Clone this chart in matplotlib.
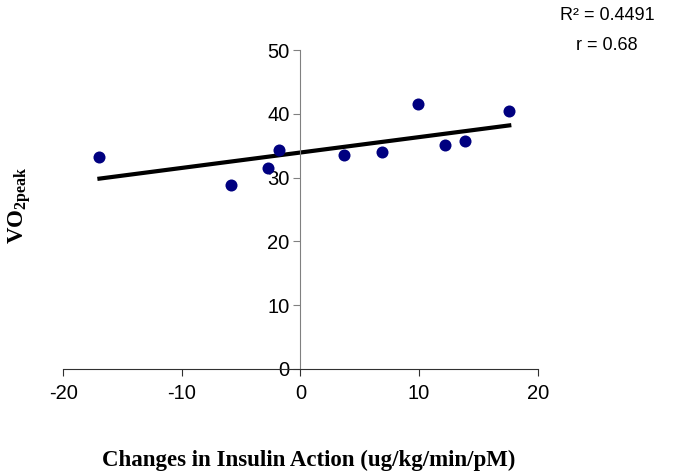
import numpy as np
import matplotlib.pyplot as plt

plt.rcParams['font.family'] = ['Liberation Sans', 'DejaVu Sans']
plt.rcParams['axes.unicode_minus'] = False
plt.rcParams['mathtext.fontset'] = 'custom'
plt.rcParams['mathtext.rm'] = 'Liberation Serif:bold'
plt.rcParams['mathtext.bf'] = 'Liberation Serif:bold'

# data
insulin_change = [-16.95, -5.85, -2.78, -1.8, 3.63, 6.83, 9.87, 12.2, 13.9, 17.6]
vo2_peak = [33.2, 28.8, 31.5, 34.4, 33.5, 34.1, 41.6, 35.1, 35.7, 40.4]
x_ticks = [-20, -10, 0, 10, 20]
y_ticks = [0, 10, 20, 30, 40, 50]
stats_text = "R\u00b2 = 0.4491\nr = 0.68"

x = np.array(insulin_change)
y = np.array(vo2_peak)
slope, intercept = np.polyfit(x, y, 1)
xfit = np.array([x.min(), x.max()])

fig = plt.figure(figsize=(6.73, 4.73), dpi=100)
ax = fig.add_axes([0.094, 0.22, 0.705, 0.674])

ax.plot(xfit, slope * xfit + intercept, color='black', lw=3, zorder=2)
ax.scatter(x, y, s=75, color='#000080', zorder=3, linewidths=0)

ax.set_xlim(-20, 20)
ax.set_ylim(0, 50)
ax.set_xticks(x_ticks)
ax.set_yticks(y_ticks)

ax.spines['top'].set_visible(False)
ax.spines['right'].set_visible(False)
ax.spines['left'].set_position(('data', 0))
ax.spines['left'].set_color('#808080')
ax.spines['bottom'].set_color('#303030')
ax.tick_params(axis='x', direction='out', length=5, labelsize=14.5, pad=6, color='#303030')
ax.tick_params(axis='y', direction='out', length=5, labelsize=14.5, pad=3, color='#808080')

fig.text(0.458, 0.027, 'Changes in Insulin Action (ug/kg/min/pM)',
         ha='center', va='center', fontsize=16.5, fontweight='bold',
         family='Liberation Serif')
fig.text(0.03, 0.565, r'VO$_{\mathbf{2peak}}$', rotation=90,
         ha='center', va='center', fontsize=16.5, fontweight='bold',
         family='Liberation Serif')
fig.text(0.902, 0.935, stats_text, ha='center', va='center', fontsize=13,
         linespacing=2.0)

fig.savefig('out.png', dpi=100)
